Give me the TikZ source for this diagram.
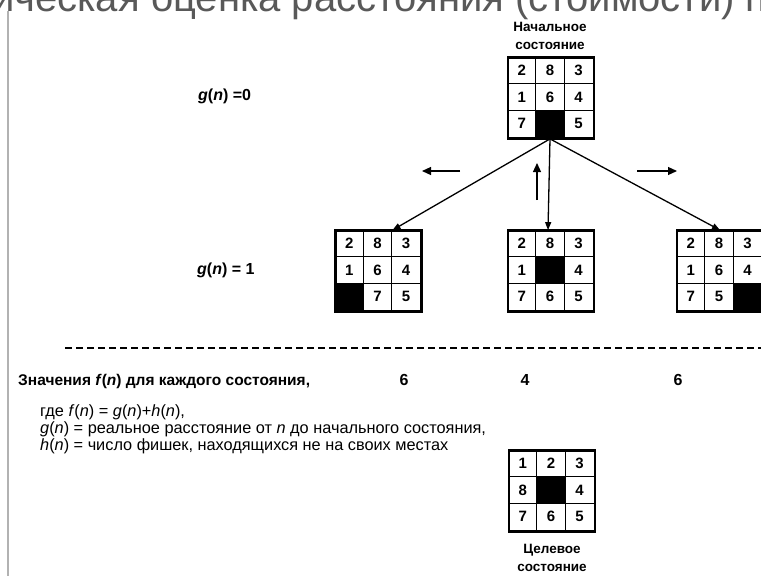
\documentclass[tikz,border=0pt]{standalone}
\usepackage{fontspec}
\setmainfont{Liberation Sans}
\usetikzlibrary{arrows.meta,calc}
\tikzset{
  board/.style={draw, line width=1.8pt, minimum width=85pt, minimum height=80pt, inner sep=0pt},
  gridline/.style={line width=0.9pt},
  num/.style={font=\bfseries\fontsize{15}{15}\selectfont, inner sep=0pt},
  conn/.style={line width=1.3pt, -{Triangle[length=8pt,width=6pt]}},
  dirarrow/.style={line width=1.2pt, -{Triangle[length=9pt,width=8pt]}},
  lbl/.style={font=\bfseries\fontsize{16}{16}\selectfont, inner sep=0pt},
  smalllbl/.style={font=\bfseries\fontsize{13.5}{18}\selectfont, align=center, inner sep=0pt},
  txt/.style={font=\fontsize{16.3}{16}\selectfont, anchor=base west, inner sep=0pt},
}
\newcommand\board[3]{%
  \node[board] (#1) at (#2) {};
  \foreach \v [count=\i from 0] in {#3} {
    \pgfmathtruncatemacro\cc{mod(\i,3)}
    \pgfmathtruncatemacro\rr{div(\i,3)}
    \ifnum\v=0
      \fill ($(#1.north west)+(\cc*28.333,\rr*26.667)$) rectangle ++(28.333,26.667);
    \else
      \node[num] at ($(#1.north west)+(\cc*28.333+14.17,\rr*26.667+13.33)$) {\v};
    \fi
  }
  \draw[gridline] ($(#1.north west)+(28.333,0)$) -- ($(#1.south west)+(28.333,0)$);
  \draw[gridline] ($(#1.north west)+(56.667,0)$) -- ($(#1.south west)+(56.667,0)$);
  \draw[gridline] ($(#1.north west)+(0,26.667)$) -- ($(#1.north east)+(0,26.667)$);
  \draw[gridline] ($(#1.north west)+(0,53.333)$) -- ($(#1.north east)+(0,53.333)$);
  \draw[line width=1.8pt] (#1.north west) rectangle (#1.south east);
}
\begin{document}
\begin{tikzpicture}[x=1pt,y=-1pt]
\useasboundingbox (0,0) rectangle (761,576);
\clip (0,0) rectangle (761,576);
\fill[white] (0,0) rectangle (761,576);
% cut-off title
\node[anchor=base west, text=black!65, font=\fontsize{40}{40}\selectfont, inner sep=0pt] (title) at (-8,11) {ическая оценка расстояния (стоимости) пути};
% left rule
\draw[black!30, line width=1.2pt] (8,11) -- (8,576);
% boards
\board{top}{551,98}{2,8,3,1,6,4,7,0,5}
\board{c1}{378.5,271}{2,8,3,1,6,4,0,7,5}
\board{c2}{551,271}{2,8,3,1,0,4,7,6,5}
\board{c3}{720,271}{2,8,3,1,6,4,7,5,0}
\board{goal}{552,491}{1,2,3,8,0,4,7,6,5}
% labels
\node[smalllbl] (startlbl) at (550,36) {Начальное\\состояние};
\node[smalllbl] (goallbl) at (552,558) {Целевое\\состояние};
\node[lbl, anchor=west] (g0) at (198,96) {\textit{g}(\textit{n}) =0};
\node[lbl, anchor=west] (g1) at (197,270) {\textit{g}(\textit{n}) = 1};
% connectors
\draw[conn] ([xshift=-1pt]top.south) -- ([xshift=14pt]c1.north);
\draw[conn] ([xshift=-1pt]top.south) -- ([xshift=-3pt]c2.north);
\draw[conn] ([xshift=-1pt]top.south) -- (c3.north);
% direction arrows
\coordinate (la1) at (460,171); \coordinate (la2) at (422,171);
\coordinate (ua1) at (537,200); \coordinate (ua2) at (537,163);
\coordinate (ra1) at (637,171); \coordinate (ra2) at (677,171);
\draw[dirarrow] (la1) -- (la2);
\draw[dirarrow] (ua1) -- (ua2);
\draw[dirarrow] (ra1) -- (ra2);
% dashed separator
\coordinate (d1) at (65,348); \coordinate (d2) at (761,348);
\draw[line width=2pt, dash pattern=on 7pt off 4pt] (d1) -- (d2);
% f values
\node[lbl, anchor=base west, font=\bfseries\fontsize{15.5}{16}\selectfont] (fl) at (18,385) {Значения \textit{f}(\textit{n}) для каждого состояния,};
\node[lbl, anchor=base] (f1) at (404,385) {6};
\node[lbl, anchor=base] (f2) at (525,385) {4};
\node[lbl, anchor=base] (f3) at (678,385) {6};
% explanation
\node[txt] (e1) at (40,416) {где \textit{f}(\textit{n}) = \textit{g}(\textit{n})+\textit{h}(\textit{n}),};
\node[txt] (e2) at (40,433) {\textit{g}(\textit{n}) = реальное расстояние от \textit{n} до начального состояния,};
\node[txt] (e3) at (40,450) {\textit{h}(\textit{n}) = число фишек, находящихся не на своих местах};
\end{tikzpicture}
\end{document}
